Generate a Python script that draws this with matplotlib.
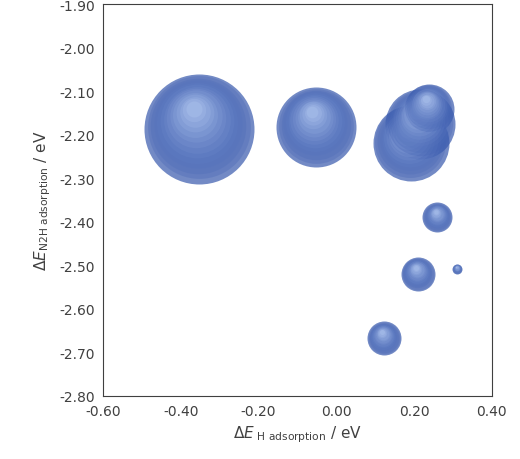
import matplotlib
matplotlib.use("Agg")
import matplotlib.pyplot as plt
import numpy as np

dE_H = [-0.353, -0.052, 0.191, 0.216, 0.237, 0.26, 0.209, 0.31, 0.122]
dE_N2H = [-2.187, -2.182, -2.22, -2.175, -2.14, -2.39, -2.52, -2.508, -2.668]
radius_px = [55, 40, 38, 35, 25, 15, 17, 5, 17]

fig = plt.figure(figsize=(5.2, 4.6), dpi=100)
ax = fig.add_axes([0.198, 0.137, 0.748, 0.852])
ax.set_xlim(-0.6, 0.4)
ax.set_ylim(-2.8, -1.9)
fig.canvas.draw()

def px2data(dx, dy):
    t = ax.transData.inverted()
    o = t.transform((0, 0))
    p = t.transform((dx, dy))
    return p[0] - o[0], p[1] - o[1]

steps = 14
base = np.array([0.22, 0.35, 0.68])
light = np.array([0.75, 0.83, 0.97])
for x, y, r in zip(dE_H, dE_N2H, radius_px):
    ax.scatter([x], [y], s=(2 * r * 0.72) ** 2, color=base, alpha=0.7, lw=0, zorder=2)
    for i in range(1, steps):
        f = i / steps
        rr = r * (1 - f * 0.92)
        dx, dy = px2data(-0.1 * r * f, 0.4 * r * f)
        c = base * (1 - f) + light * f
        ax.scatter([x + dx], [y + dy], s=(2 * rr * 0.72) ** 2, color=c, alpha=0.3, lw=0, zorder=3)

ax.set_xticks(np.arange(-0.6, 0.41, 0.2))
ax.set_yticks(np.arange(-2.8, -1.89, 0.1))
ax.set_xticklabels([f"{v:.2f}" for v in np.arange(-0.6, 0.41, 0.2)])
ax.set_yticklabels([f"{v:.2f}" for v in np.arange(-2.8, -1.89, 0.1)])
ax.tick_params(length=0, labelsize=10, colors='#404040', pad=6)
for s in ax.spines.values():
    s.set_color('#404040'); s.set_linewidth(0.8)
ax.set_xlabel(r"$\Delta E$$_{\rm\ H\ adsorption}$ / eV", fontsize=11, color='#404040')
ax.set_ylabel(r"$\Delta E$$_{\rm N2H\ adsorption}$ / eV", fontsize=11, color='#404040')
fig.savefig("out.png", dpi=100)
